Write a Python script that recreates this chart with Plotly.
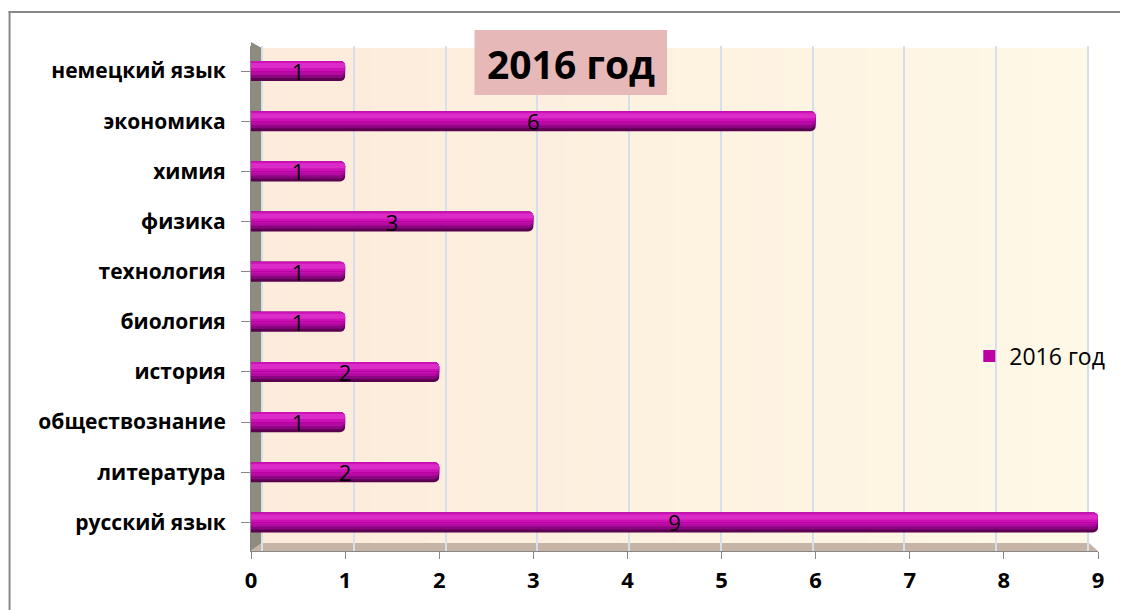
import plotly.graph_objects as go

# ---------------- data ----------------
subjects = ["русский язык", "литература", "обществознание", "история", "биология",
            "технология", "физика", "химия", "экономика", "немецкий язык"]
counts = [9, 2, 1, 2, 1, 1, 3, 1, 6, 1]
series_name = "2016 год"
title_text = "2016 год"
x_ticks = list(range(0, 10))

# ---------------- geometry helpers (pixels -> paper) ----------------
FW, FH = 1122, 610
L, R, T, B = 251, 22, 46, 59
PW = FW - L - R
PH = FH - T - B


def X(px):
    return (px - L) / PW


def Y(py):
    return 1 - (py - T) / PH


FONT = "Open Sans"

fig = go.Figure()

# cylinder-like bars built from overlaid layers (dark bottom -> bright top)
layers = [
    ("#5C0050", -0.20, 0.40, 5),
    ("#8A0680", -0.14, 0.34, 5),
    ("#B40AA2", -0.08, 0.28, 5),
    ("#CC12B6", -0.02, 0.22, 5),
    ("#DC2CC8", 0.06, 0.10, 3),
]
for i, (col, off, wid, cr) in enumerate(layers):
    fig.add_trace(go.Bar(y=subjects, x=counts, orientation="h", width=wid, offset=off,
                         name=series_name,
                         marker=dict(color=col, line=dict(width=0), cornerradius=cr),
                         showlegend=False, hoverinfo="skip"))
# legend entry
fig.add_trace(go.Bar(y=subjects, x=counts, orientation="h", width=0.0001, offset=0,
                     name=series_name, marker=dict(color="#BC00A4", line=dict(width=0)),
                     showlegend=True, hoverinfo="skip", visible=True))
# data labels
fig.add_trace(go.Bar(y=subjects, x=counts, orientation="h", width=0.4, offset=-0.2,
                     marker=dict(color="rgba(0,0,0,0)", line=dict(width=0)),
                     text=[str(v) for v in counts], textposition="inside",
                     insidetextanchor="middle", constraintext="none", textangle=0,
                     textfont=dict(family=FONT, size=22, color="#000000"),
                     showlegend=False, hoverinfo="skip"))

shapes = []
# outer chart border (left and top edges visible)
shapes.append(dict(type="line", xref="paper", yref="paper", layer="below",
                   x0=X(9), x1=X(9), y0=Y(610), y1=Y(11),
                   line=dict(color="#878787", width=2)))
shapes.append(dict(type="line", xref="paper", yref="paper", layer="below",
                   x0=X(8), x1=X(1122), y0=Y(12), y1=Y(12),
                   line=dict(color="#878787", width=2)))

# back wall with a soft gradient (peach -> cream)
c0 = (253, 235, 219)
c1 = (254, 248, 230)
n = 30
wx0, wx1 = 262, 1091
for i in range(n):
    t = i / (n - 1)
    col = tuple(round(c0[k] + (c1[k] - c0[k]) * t) for k in range(3))
    xa = wx0 + (wx1 - wx0) * i / n
    xb = wx0 + (wx1 - wx0) * (i + 1) / n + 0.6
    shapes.append(dict(type="rect", xref="paper", yref="paper", layer="below",
                       x0=X(xa), x1=X(min(xb, wx1)), y0=Y(543), y1=Y(48),
                       line=dict(width=0), fillcolor="rgb(%d,%d,%d)" % col))

# side wall
shapes.append(dict(type="path", xref="paper", yref="paper", layer="below",
                   path="M %f %f L %f %f L %f %f L %f %f Z" % (
                       X(251), Y(42), X(262), Y(48), X(262), Y(543), X(251), Y(551)),
                   fillcolor="#8E8C7E", line=dict(width=0)))
# floor
shapes.append(dict(type="path", xref="paper", yref="paper", layer="below",
                   path="M %f %f L %f %f L %f %f L %f %f Z" % (
                       X(251), Y(551), X(262), Y(543), X(1091), Y(543), X(1100), Y(551)),
                   fillcolor="#C6B4A7", line=dict(width=0)))
# title box
shapes.append(dict(type="rect", xref="paper", yref="paper", layer="above",
                   x0=X(475), x1=X(668), y0=Y(95), y1=Y(30),
                   fillcolor="#E6B8B7", line=dict(width=0)))

fig.update_layout(
    width=FW, height=FH,
    margin=dict(l=L, r=R, t=T, b=B, pad=0),
    paper_bgcolor="white",
    plot_bgcolor="rgba(0,0,0,0)",
    barmode="overlay",
    font=dict(family=FONT, color="#000000"),
    shapes=shapes,
    showlegend=True,
    legend=dict(x=X(971), y=Y(356), xanchor="left", yanchor="middle",
                bgcolor="rgba(0,0,0,0)", borderwidth=0,
                font=dict(family=FONT, size=23, color="#000000"),
                itemclick=False, itemdoubleclick=False),
    annotations=[dict(text="<b>%s</b>" % title_text, xref="paper", yref="paper",
                      x=X(572), y=Y(63), xanchor="center", yanchor="middle",
                      showarrow=False,
                      font=dict(family=FONT, size=39, color="#000000"))],
    xaxis=dict(range=[0, 9], tickvals=x_ticks, ticktext=["<b>%d</b>" % v for v in x_ticks],
               showgrid=False, zeroline=False, showline=True, linecolor="#878787",
               linewidth=1, ticks="outside", ticklen=7, tickcolor="#878787",
               ticklabelstandoff=3,
               tickfont=dict(family=FONT, size=22, color="#000000"), fixedrange=True),
    xaxis2=dict(overlaying="x", domain=[0, 1], range=[-(262 - L) / 92, (1100 - 262) / 92],
                tickvals=x_ticks, showgrid=True, gridcolor="#D6DFEC", gridwidth=1.5,
                showticklabels=False, zeroline=False, showline=False, ticks="",
                side="bottom", fixedrange=True),
    yaxis=dict(categoryorder="array", categoryarray=subjects, range=[-0.57, 9.5],
               tickvals=subjects, ticktext=["<b>%s</b>" % s for s in subjects],
               showgrid=False, zeroline=False, showline=True, linecolor="#878787",
               linewidth=1, ticks="outside", ticklen=9, tickcolor="#878787",
               ticklabelstandoff=11,
               tickfont=dict(family=FONT, size=21, color="#000000"), fixedrange=True),
)

# invisible trace so the wall-grid axis is drawn
fig.add_trace(go.Scatter(x=[0], y=[subjects[0]], xaxis="x2", mode="markers",
                         marker=dict(opacity=0), showlegend=False, hoverinfo="skip"))

# hide anything stray in the top-right corner
fig.add_shape(type="rect", xref="paper", yref="paper", layer="above",
              x0=X(1101), x1=X(1124), y0=Y(45), y1=Y(13.2),
              fillcolor="white", line=dict(width=0))

fig.write_html("out.html", config={"displayModeBar": False},
               post_script="document.body.style.margin='0px';")
